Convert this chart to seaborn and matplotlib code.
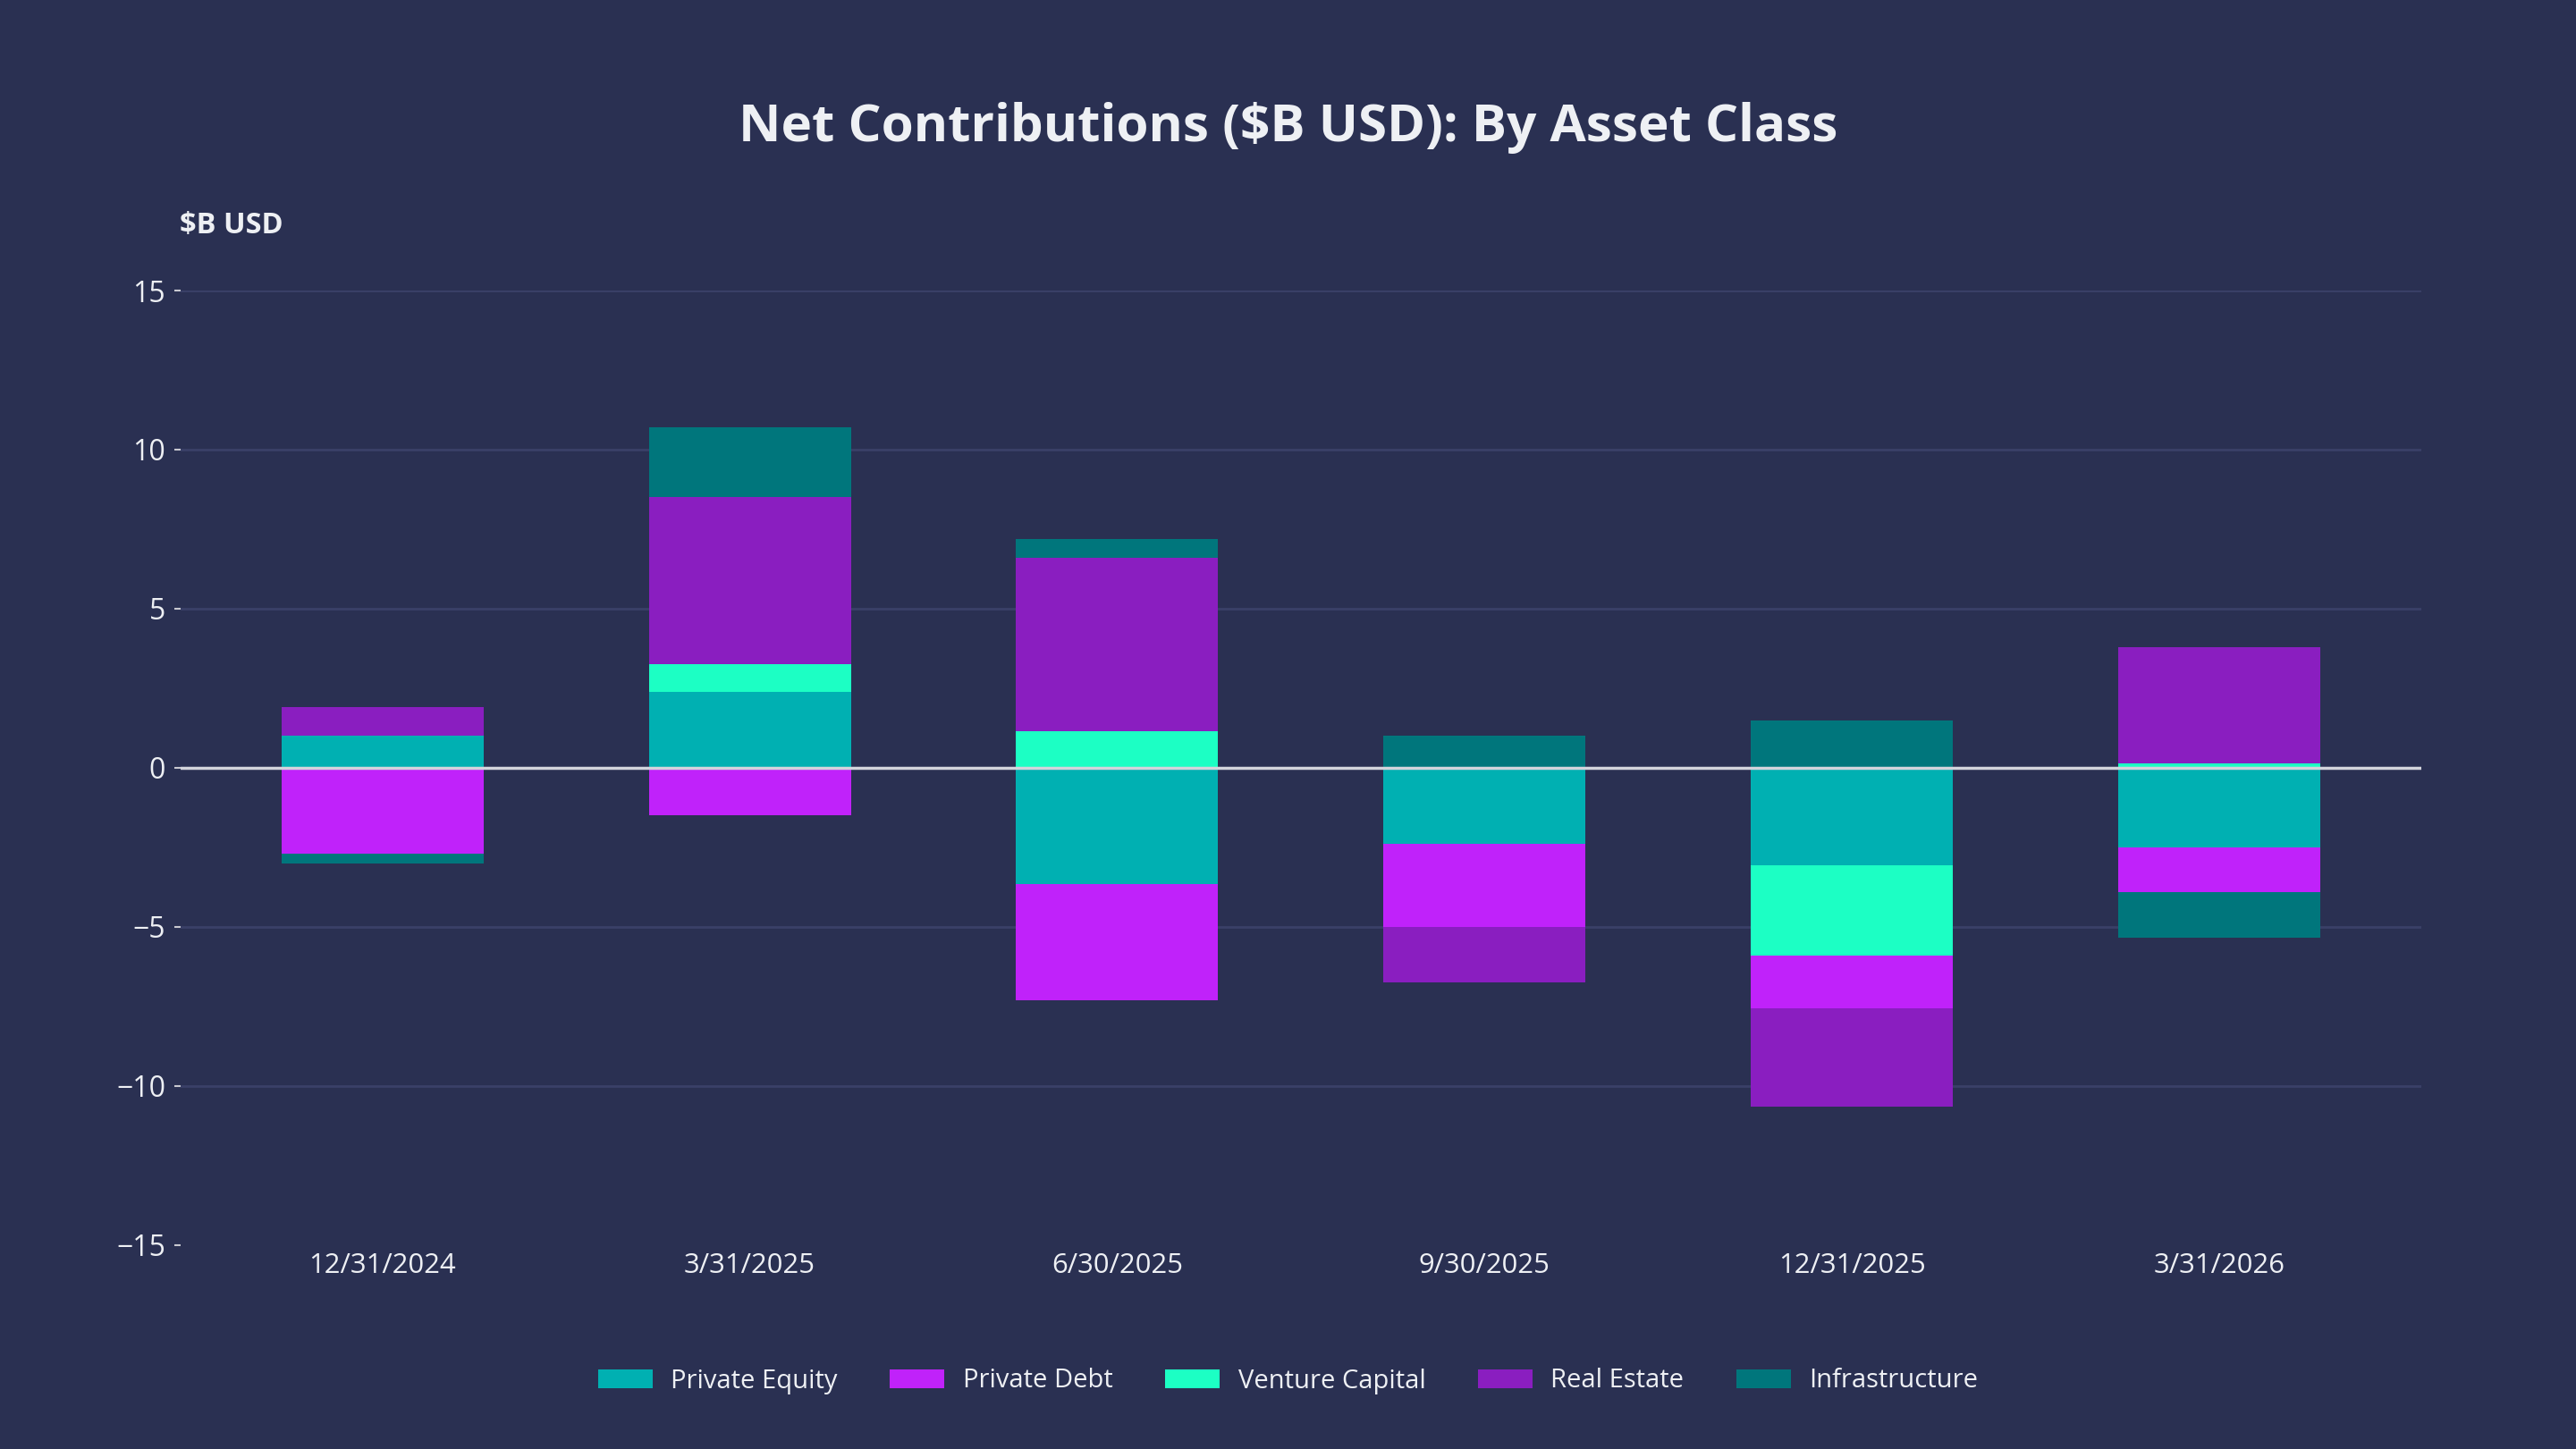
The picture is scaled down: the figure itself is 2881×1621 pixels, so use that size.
"""
Net contributions by asset class: relative stacked bars (positives up, negatives down)
"""

import numpy as np
import pandas as pd
import matplotlib
matplotlib.use("Agg")
import matplotlib.pyplot as plt
import seaborn as sns

# data
quarters = ["12/31/2024", "3/31/2025", "6/30/2025", "9/30/2025", "12/31/2025", "3/31/2026"]
private_equity = [1.0, 2.4, -3.65, -2.4, -3.05, -2.5]
private_debt = [-2.7, -1.5, -3.65, -2.6, -1.65, -1.4]
venture_capital = [0.0, 0.85, 1.15, 0.0, -2.85, 0.15]
real_estate = [0.9, 5.25, 5.45, -1.75, -3.1, 3.65]
infrastructure = [-0.3, 2.2, 0.6, 1.0, 1.5, -1.45]

series = ["Private Equity", "Private Debt", "Venture Capital", "Real Estate", "Infrastructure"]
values = [private_equity, private_debt, venture_capital, real_estate, infrastructure]
colors = ["#00b0b2", "#c022fa", "#1cffc4", "#8a1ec0", "#00767c"]

# stacking order per quarter (the 12/31/2025 bar stacks venture capital before debt)
default_order = [0, 1, 2, 3, 4]
stack_order = {"12/31/2025": [0, 2, 1, 3, 4]}

BG = "#2a3052"
GRID = "#3a4068"
TEXT = "#eef0f4"


def main():
    sns.set_style("dark")
    plt.rcParams["font.family"] = ["Open Sans", "DejaVu Sans"]

    fig = plt.figure(figsize=(28.81, 16.21), dpi=100, facecolor=BG)
    ax = fig.add_axes([0.070, 0.1407, 0.870, 0.6588])
    ax.set_facecolor(BG)

    # compute bottoms: positives stack above zero, negatives below
    vals = np.array(values, dtype=float)
    bottoms = np.zeros_like(vals)
    for jj, q in enumerate(quarters):
        pos, neg = 0.0, 0.0
        for ii in stack_order.get(q, default_order):
            v = vals[ii, jj]
            if v >= 0:
                bottoms[ii, jj] = pos
                pos += v
            else:
                bottoms[ii, jj] = neg
                neg += v

    for ii, (name, col) in enumerate(zip(series, colors)):
        df = pd.DataFrame({"quarter": quarters, "value": vals[ii]})
        sns.barplot(data=df, x="quarter", y="value", order=quarters, color=col,
                    width=0.55, bottom=bottoms[ii], linewidth=0, saturation=1,
                    errorbar=None, label=name, ax=ax)

    # axes
    ax.set_xlim(-0.55, 5.55)
    ax.set_ylim(-15, 15)
    ax.set_yticks([-15, -10, -5, 0, 5, 10, 15])
    ax.set_xlabel("")
    ax.set_ylabel("")
    for s in ax.spines.values():
        s.set_visible(False)
    ax.grid(False)
    ax.yaxis.grid(True, color=GRID, linewidth=2)
    ax.set_axisbelow(True)
    ax.get_ygridlines()[0].set_visible(False)
    ax.axhline(0, color="#d3d4dc", linewidth=2.5, zorder=3)
    ax.tick_params(axis="y", left=True, length=5, width=1.5, color="#c8c8d0",
                   pad=7, labelsize=23, labelcolor=TEXT)
    ax.tick_params(axis="x", bottom=False, pad=2, labelsize=22.3, labelcolor=TEXT)

    # labels
    fig.text(0.5, 1 - 143 / 1621, "Net Contributions ($B USD): By Asset Class",
             ha="center", va="center", fontsize=42, fontweight="bold", color=TEXT)
    fig.text(201 / 2881, 1 - 253 / 1621, "$B USD", ha="left", va="center",
             fontsize=23.5, fontweight="bold", color=TEXT)

    # legend
    leg = fig.legend(*ax.get_legend_handles_labels(), loc="center",
                     bbox_to_anchor=(0.5, 1 - 1545 / 1621), ncol=5, frameon=False,
                     fontsize=21, handlelength=2.1, handleheight=0.75,
                     handletextpad=0.7, columnspacing=2.0)
    for t in leg.get_texts():
        t.set_color(TEXT)
    if ax.get_legend() is not None:
        ax.get_legend().remove()

    fig.savefig("out.png", dpi=100, facecolor=BG)


if __name__ == "__main__":
    main()
